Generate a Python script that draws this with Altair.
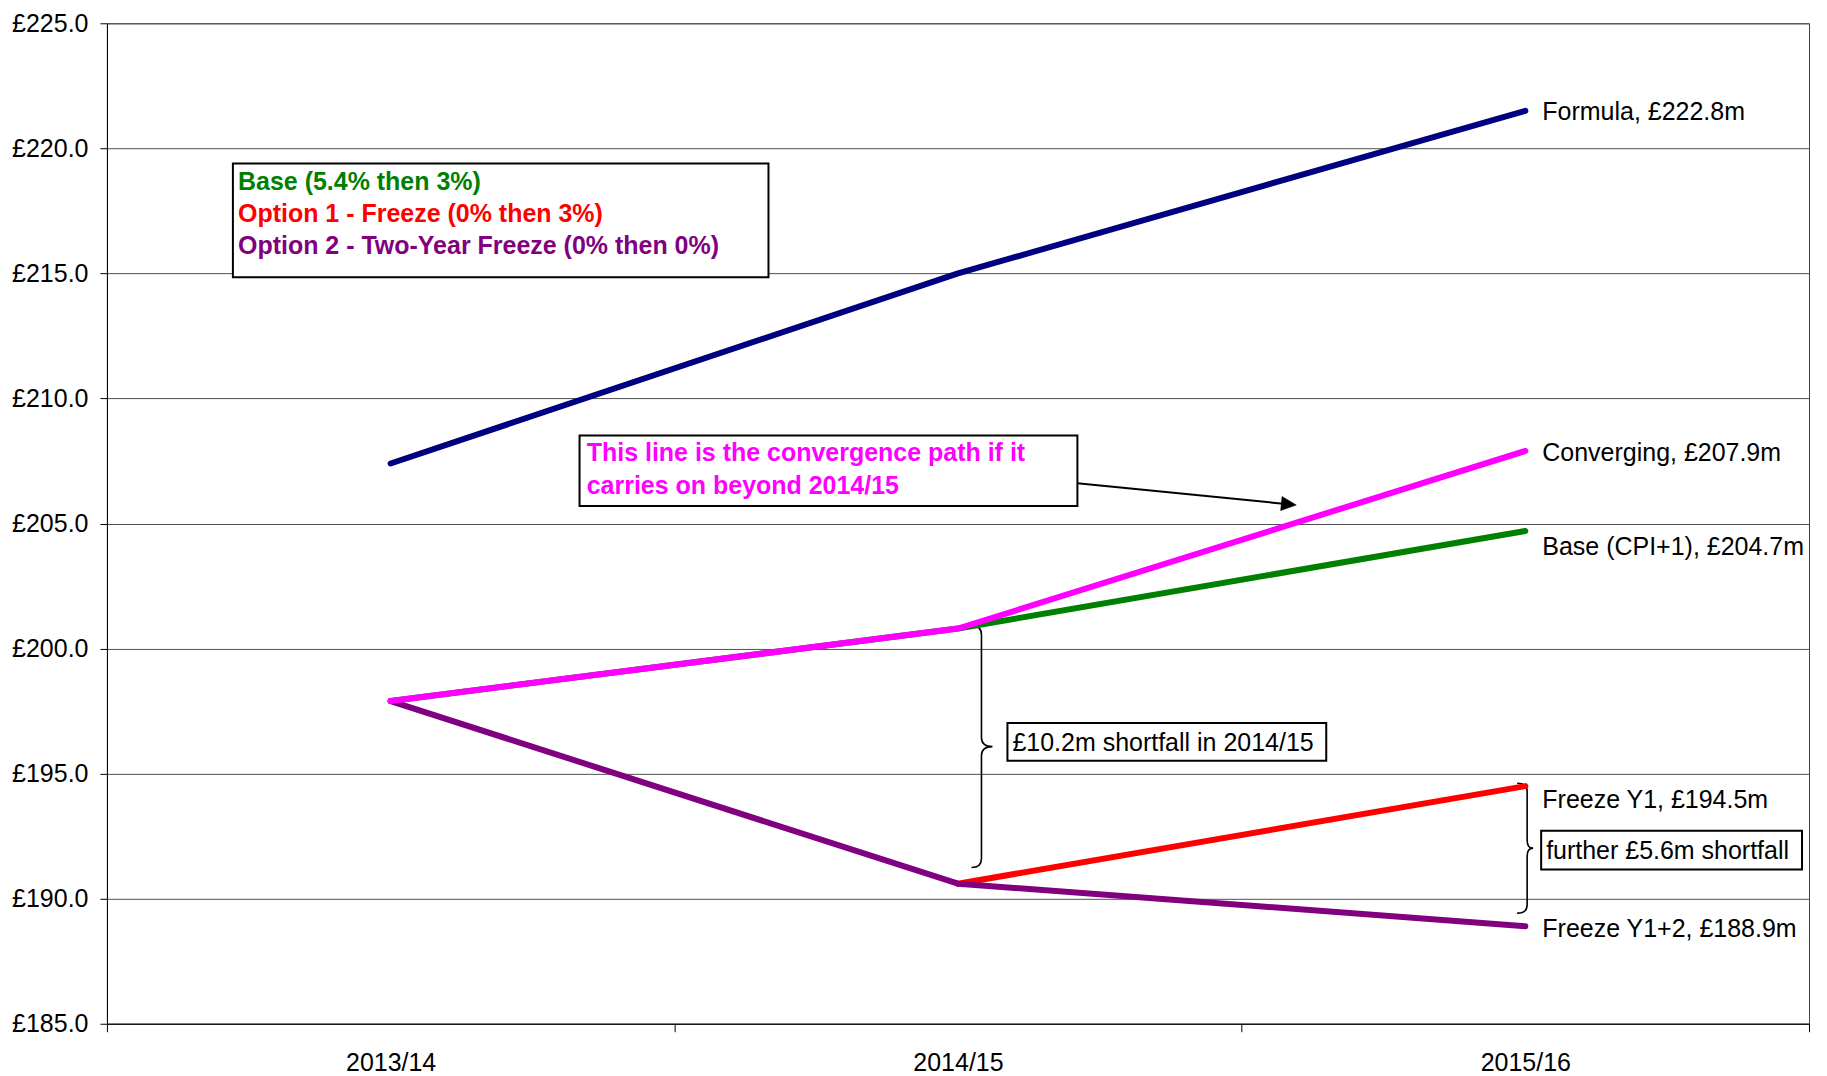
import json
import altair as alt
import pandas as pd

# ---------------- data ----------------
years = ["2013/14", "2014/15", "2015/16"]
formula = [207.4, 215.0, 221.5]
base = [197.9, 200.8, 204.7]
freeze_y1 = [None, 190.6, 194.5]
freeze_y12 = [197.9, 190.6, 188.9]
converging = [197.9, 200.8, 207.9]

series_names = ["Formula", "Base (CPI+1)", "Freeze Y1", "Freeze Y1+2", "Converging"]
series_values = [formula, base, freeze_y1, freeze_y12, converging]
end_labels = ["Formula, £222.8m", "Base (CPI+1), £204.7m", "Freeze Y1, £194.5m",
              "Freeze Y1+2, £188.9m", "Converging, £207.9m"]

legend_lines = ["Base (5.4% then 3%)", "Option 1 - Freeze (0% then 3%)",
                "Option 2 - Two-Year Freeze (0% then 0%)"]
note_lines = ["This line is the convergence path if it", "carries on beyond 2014/15"]
shortfall_texts = ["£10.2m shortfall in 2014/15", "further £5.6m shortfall"]

# ---------------- styling ----------------
FONT = "Liberation Sans, Arial, sans-serif"
series_colors = ["#000080", "#008000", "#FF0000", "#800080", "#FF00FF"]
legend_colors = ["#008000", "#FF0000", "#800080"]
label_dy = [1, 16, 14, 3, 2]
W, H = 1703, 1001

rows = []
for name, vals in zip(series_names, series_values):
    for i, v in enumerate(vals):
        if v is not None:
            rows.append({"series": name, "year": years[i], "pos": i + 0.5, "value": v})
df = pd.DataFrame(rows)

xs = alt.Scale(domain=[0, 3], nice=False, zero=False)
ys = alt.Scale(domain=[185, 225], nice=False, zero=False)
xa = alt.Axis(values=[0, 1, 2, 3], labelExpr=json.dumps(years + [""]).replace('"', "'") + "[datum.value]",
              labelOffset=W / 6, tickSize=8, grid=False, title=None, domainColor="black",
              tickColor="black", labelFontSize=25, labelFont=FONT, labelColor="black",
              labelPadding=19, labelFlush=False, labelOverlap=False, labelBaseline="top")
ya = alt.Axis(values=list(range(185, 226, 5)), labelExpr="'£' + format(datum.value, '.1f')",
              tickSize=7, grid=True, gridColor="#505050", gridWidth=1, domainColor="black",
              tickColor="black", labelFontSize=25, labelFont=FONT, labelColor="black",
              labelPadding=12, title=None)


def X(f="x"):
    return alt.X(f"{f}:Q", scale=xs, axis=xa)


def Y(f="y"):
    return alt.Y(f"{f}:Q", scale=ys, axis=ya)


# annotation boxes (in data units)
boxes = pd.DataFrame({
    "x": [0.222, 0.833, 1.5872, 2.5279],
    "x2": [1.166, 1.7105, 2.1491, 2.9877],
    "y": [219.39, 208.52, 197.02, 192.72],
    "y2": [214.85, 205.70, 195.51, 191.17],
})
box_layer = alt.Chart(boxes).mark_rect(fill="white", stroke="black", strokeWidth=2).encode(
    x=X(), x2="x2", y=Y(), y2="y2")


def brace_path(half_px, hook_px, tip_px, r_px=9):
    h = hook_px / half_px
    t = tip_px / half_px
    r = r_px / half_px
    return (f"M{-h:.4f},-1 Q0,-1 0,{-1 + r:.4f} L0,{-r:.4f} Q0,0 {t:.4f},0 "
            f"Q0,0 0,{r:.4f} L0,{1 - r:.4f} Q0,1 {-h:.4f},1")


brace1 = alt.Chart(pd.DataFrame({"x": [1.5414], "y": [196.08]})).mark_point(
    shape=brace_path(121, 10, 11), size=242 ** 2, filled=False, stroke="black",
    strokeWidth=1.6, opacity=1).encode(x=X(), y=Y())
brace2 = alt.Chart(pd.DataFrame({"x": [2.5032], "y": [192.02]})).mark_point(
    shape=brace_path(65, 10, 6, 8), size=130 ** 2, filled=False, stroke="black",
    strokeWidth=1.6, opacity=1).encode(x=X(), y=Y())

arrow_line = alt.Chart(pd.DataFrame({"x": [1.7105], "y": [206.61], "x2": [2.0831], "y2": [205.77]})).mark_rule(
    color="black", strokeWidth=2).encode(x=X(), y=Y(), x2="x2", y2="y2")
arrow_head = alt.Chart(pd.DataFrame({"x": [2.0831], "y": [205.77]})).mark_point(
    shape="M-1,-0.95 L1,0 L-1,0.95 Z", size=225, filled=True, fill="black", stroke="black",
    strokeWidth=0.5, opacity=1, angle=5.7).encode(x=X(), y=Y())

line_layers = []
for name, col in zip(series_names, series_colors):
    line_layers.append(
        alt.Chart(df[df.series == name]).mark_line(
            color=col, strokeWidth=6, strokeCap="round", strokeJoin="round").encode(
            x=X("pos"), y=Y("value"), order="pos:Q"))

label_layers = []
for name, lab, dy in zip(series_names, end_labels, label_dy):
    last = df[df.series == name].iloc[-1]
    d = pd.DataFrame({"x": [last["pos"]], "y": [last["value"]], "t": [lab]})
    label_layers.append(alt.Chart(d).mark_text(
        align="left", baseline="middle", dx=17, dy=dy, fontSize=25, font=FONT, color="black").encode(
        x=X(), y=Y(), text="t:N"))

legend_df = pd.DataFrame({"x": [0.231] * 3, "y": [218.66, 217.39, 216.11],
                          "t": legend_lines, "c": legend_colors})
legend_text = alt.Chart(legend_df).mark_text(
    align="left", baseline="middle", fontSize=25, font=FONT, fontWeight="bold").encode(
    x=X(), y=Y(), text="t:N", color=alt.Color("c:N", scale=None))

note_df = pd.DataFrame({"x": [0.8456] * 2, "y": [207.80, 206.48], "t": note_lines})
note_text = alt.Chart(note_df).mark_text(
    align="left", baseline="middle", fontSize=25, font=FONT, fontWeight="bold", color="#FF00FF").encode(
    x=X(), y=Y(), text="t:N")

sf_df = pd.DataFrame({"x": [1.596, 2.5367], "y": [196.21, 191.92], "t": shortfall_texts})
sf_text = alt.Chart(sf_df).mark_text(
    align="left", baseline="middle", fontSize=25, font=FONT, color="black").encode(
    x=X(), y=Y(), text="t:N")

chart = alt.layer(
    box_layer, brace1, brace2, arrow_line, arrow_head, *line_layers, *label_layers,
    legend_text, note_text, sf_text
).properties(
    width=W, height=H,
    autosize=alt.AutoSizeParams(type="none"),
    padding={"left": 99, "top": 15, "right": 10, "bottom": 56},
    background="white",
).configure_view(stroke="#404040", strokeWidth=1)

chart.save("out.html", embed_options={"renderer": "svg", "actions": False})
